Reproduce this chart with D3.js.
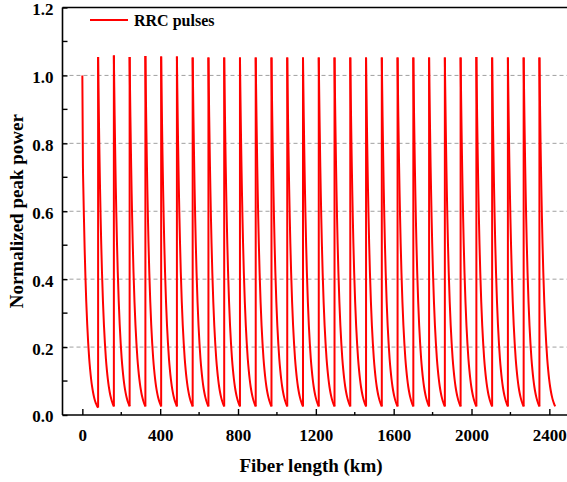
<!DOCTYPE html>
<html>
<head>
<meta charset="utf-8">
<script src="https://cdn.jsdelivr.net/npm/d3@7"></script>
<style>
  html, body { margin: 0; padding: 0; background: #fff; }
  svg { display: block; }
  text { font-family: "Liberation Serif", "Times New Roman", serif; font-weight: bold; fill: #000; }
</style>
</head>
<body>
<svg id="chart" width="567" height="482"></svg>
<script>
// ---- data ----
const seriesName = "RRC pulses";
// amplifier positions (km) where each span starts
const spanStarts = [0, 81, 162, 243, 324, 405, 486, 567, 648, 729, 810, 891, 972, 1053, 1134,
  1215, 1296, 1377, 1458, 1539, 1620, 1701, 1782, 1863, 1944, 2025, 2106, 2187, 2268, 2349];
// normalized peak power at the start of each span
const spanPeaks = [1.0, 1.054, 1.059, 1.054, 1.057, 1.056, 1.056, 1.053, 1.053, 1.053, 1.053,
  1.053, 1.053, 1.053, 1.053, 1.053, 1.053, 1.053, 1.053, 1.053, 1.053, 1.053, 1.053, 1.053,
  1.053, 1.054, 1.053, 1.053, 1.053, 1.053];
// decay inside one span: distance from span start (km) and power relative to the span peak
const decayKm  = [0, 1, 2, 4, 6, 8, 10, 13, 16, 20, 25, 30, 35, 40, 45, 50, 55, 60, 65, 70, 75, 81];
const decayRel = [1, 0.955, 0.912, 0.832, 0.759, 0.692, 0.631, 0.550, 0.479, 0.398, 0.316, 0.251,
  0.200, 0.158, 0.126, 0.100, 0.079, 0.063, 0.050, 0.040, 0.032, 0.024];
// first span (launch): quick drop then decay
const firstKm  = [0, 3, 5, 8, 12, 16, 20, 25, 30, 35, 40, 45, 50, 55, 60, 65, 70, 75, 81];
const firstVal = [1.0, 0.735, 0.670, 0.585, 0.486, 0.404, 0.335, 0.267, 0.212, 0.168, 0.134,
  0.106, 0.084, 0.067, 0.053, 0.042, 0.034, 0.027, 0.022];
// axes
const xTicks = [0, 400, 800, 1200, 1600, 2000, 2400];
const xMinor = [200, 600, 1000, 1400, 1800, 2200];
const yTicks = [0.0, 0.2, 0.4, 0.6, 0.8, 1.0, 1.2];
const yMinor = [0.1, 0.3, 0.5, 0.7, 0.9, 1.1];
const gridY = [0.2, 0.4, 0.6, 0.8, 1.0];
const xTitle = "Fiber length (km)";
const yTitle = "Normalized peak power";

// ---- layout ----
const svg = d3.select("#chart");
const pLeft = 62.5, pRight = 568.8, pTop = 7.5, pBottom = 415;
const x = d3.scaleLinear().domain([-102, 2500]).range([pLeft, pRight]);
const y = d3.scaleLinear().domain([0, 1.2]).range([pBottom, pTop]);

// grid
svg.append("g").selectAll("line").data(gridY).join("line")
  .attr("x1", pLeft).attr("x2", pRight)
  .attr("y1", d => y(d)).attr("y2", d => y(d))
  .attr("stroke", "#a0a0a0").attr("stroke-width", 1).attr("stroke-dasharray", "4,3");

// build spans
const spans = spanStarts.map((s, k) => {
  if (k === 0) return firstKm.map((d, i) => [s + d, firstVal[i]]);
  return decayKm.map((d, i) => [s + d, spanPeaks[k] * decayRel[i]]);
});

svg.append("clipPath").attr("id", "plotclip").append("rect")
  .attr("x", pLeft).attr("y", pTop).attr("width", pRight - pLeft).attr("height", pBottom - pTop);

const gData = svg.append("g").attr("clip-path", "url(#plotclip)");
const lineCurve = d3.line().x(d => x(d[0])).y(d => y(d[1])).curve(d3.curveMonotoneX);
const lineLin = d3.line().x(d => x(d[0])).y(d => y(d[1]));

// rises at amplifiers
spans.forEach((sp, k) => {
  if (k === 0) return;
  const prev = spans[k - 1];
  const rise = [[spanStarts[k], prev[prev.length - 1][1]], [spanStarts[k], spanPeaks[k]]];
  gData.append("path").attr("d", lineLin(rise))
    .attr("fill", "none").attr("stroke", "#ff0000").attr("stroke-width", 2);
});
spans.forEach(sp => {
  gData.append("path").attr("d", lineCurve(sp))
    .attr("fill", "none").attr("stroke", "#ff0000").attr("stroke-width", 2)
    .attr("stroke-linejoin", "round");
});

// axes
const axisColor = "#000";
svg.append("line").attr("x1", pLeft).attr("x2", pRight).attr("y1", pTop).attr("y2", pTop)
  .attr("stroke", axisColor).attr("stroke-width", 1.6);

const xAxis = svg.append("g").attr("transform", `translate(0,${pBottom})`)
  .call(d3.axisBottom(x).tickValues(xTicks).tickSize(-6).tickPadding(14).tickFormat(d3.format("d")));
xAxis.select(".domain").remove();
xAxis.selectAll(".tick line").attr("stroke", axisColor).attr("stroke-width", 1.4);
xAxis.selectAll("text").attr("font-size", 17).attr("font-family", "Liberation Serif").attr("font-weight", "bold");
svg.append("g").attr("transform", `translate(0,${pBottom})`)
  .selectAll("line").data(xMinor).join("line")
  .attr("x1", d => x(d)).attr("x2", d => x(d)).attr("y1", 0).attr("y2", -3)
  .attr("stroke", axisColor).attr("stroke-width", 1.4);
svg.append("line").attr("x1", pLeft).attr("x2", pRight).attr("y1", pBottom).attr("y2", pBottom)
  .attr("stroke", axisColor).attr("stroke-width", 1.6);

const yAxis = svg.append("g").attr("transform", `translate(${pLeft},0)`)
  .call(d3.axisLeft(y).tickValues(yTicks).tickSize(-5).tickPadding(9).tickFormat(d3.format(".1f")));
yAxis.select(".domain").remove();
yAxis.selectAll(".tick line").attr("stroke", axisColor).attr("stroke-width", 1.4);
yAxis.selectAll("text").attr("font-size", 17).attr("font-family", "Liberation Serif")
  .attr("font-weight", "bold").attr("y", 1.5);
svg.append("g").attr("transform", `translate(${pLeft},0)`)
  .selectAll("line").data(yMinor).join("line")
  .attr("x1", 0).attr("x2", 5).attr("y1", d => y(d)).attr("y2", d => y(d))
  .attr("stroke", axisColor).attr("stroke-width", 1.4);
svg.append("line").attr("x1", pLeft).attr("x2", pLeft).attr("y1", pTop).attr("y2", pBottom)
  .attr("stroke", axisColor).attr("stroke-width", 1.6);

// titles
svg.append("text").attr("x", 311).attr("y", 472).attr("text-anchor", "middle")
  .attr("font-size", 19).text(xTitle);
svg.append("text").attr("transform", `translate(23,${(pTop + pBottom) / 2}) rotate(-90)`)
  .attr("text-anchor", "middle").attr("font-size", 19).text(yTitle);

// legend
svg.append("line").attr("x1", 90).attr("x2", 128).attr("y1", 20).attr("y2", 20)
  .attr("stroke", "#ff0000").attr("stroke-width", 2);
svg.append("text").attr("x", 134).attr("y", 25.5).attr("font-size", 16).text(seriesName);
</script>
</body>
</html>
